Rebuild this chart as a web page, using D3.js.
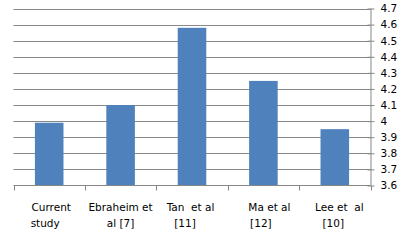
<!DOCTYPE html>
<html><head><meta charset="utf-8">
<script src="https://cdn.jsdelivr.net/npm/d3@7"></script>
<style>body{margin:0;background:#fff}svg{display:block}text{font-family:"DejaVu Sans",Verdana,sans-serif;font-size:10.5px;fill:#000}</style>
</head><body><svg id="c" width="406" height="245"></svg>
<script>
const categories = ["Current study", "Ebraheim et al [7]", "Tan et al [11]", "Ma et al [12]", "Lee et al [10]"];
const labelLines = [["Current", "study"], ["Ebraheim et", "al [7]"], ["Tan  et al", "[11]"], ["Ma et al", "[12]"], ["Lee et  al", "[10]"]];
const values = [3.99, 4.10, 4.58, 4.25, 3.95];
const yTicks = [3.6, 3.7, 3.8, 3.9, 4.0, 4.1, 4.2, 4.3, 4.4, 4.5, 4.6, 4.7];

const svg = d3.select("#c");
const pL = 13.5, pR = 370.5, pT = 8.5, pB = 185.5;
const x = d3.scaleBand().domain(categories).range([pL, pR]).paddingInner(0.6).paddingOuter(0.3);
const xb = d3.scaleBand().domain(categories).range([pL, pR]);
const y = d3.scaleLinear().domain([3.6, 4.7]).range([pB, pT]);

// gridlines
svg.append("g").selectAll("line").data(yTicks.slice(1)).join("line")
  .attr("x1", pL).attr("x2", pR)
  .attr("y1", d => Math.round(y(d)) + 0.5).attr("y2", d => Math.round(y(d)) + 0.5)
  .attr("stroke", "#878787").attr("stroke-width", 1);

// bars
svg.append("g").selectAll("rect").data(values).join("rect")
  .attr("x", (d, i) => x(categories[i]))
  .attr("width", x.bandwidth())
  .attr("y", d => y(d))
  .attr("height", d => pB - y(d))
  .attr("fill", "#4F81BD");

// right axis
const yAxis = d3.axisRight(y).tickValues(yTicks).tickSize(4).tickPadding(6)
  .tickFormat(d => d3.format("~g")(d));
const ga = svg.append("g").attr("transform", `translate(${pR},0)`).call(yAxis);
ga.select(".domain").attr("stroke", "#878787").attr("d", `M0.5,${pT}V${pB}`);
ga.selectAll(".tick line").attr("stroke", "#878787").attr("x1", -3);
ga.selectAll(".tick text").attr("font-size", "10.5px").attr("font-family", "DejaVu Sans, Verdana, sans-serif").attr("fill", "#000");

// bottom baseline and category ticks
svg.append("line").attr("x1", pL).attr("x2", pR).attr("y1", pB).attr("y2", pB).attr("stroke", "#878787");
const bt = categories.map(c => xb(c)).concat([pR]);
svg.append("g").selectAll("line").data(bt).join("line")
  .attr("x1", d => Math.round(d) + 0.5).attr("x2", d => Math.round(d) + 0.5)
  .attr("y1", pB).attr("y2", pB + 5).attr("stroke", "#878787");

// category labels (small per-line nudges mimic the original's wrapping)
const nudges = [[2, -4], [0, 0], [-1.5, -7], [6, -2.5], [4.5, -1.5]];
const lg = svg.append("g");
labelLines.forEach((lines, i) => {
  const cx = xb(categories[i]) + xb.bandwidth() / 2;
  const t = lg.append("text").attr("text-anchor", "middle").attr("xml:space", "preserve");
  lines.forEach((ln, j) => {
    t.append("tspan").attr("x", cx + nudges[i][j]).attr("y", 211 + j * 15.5).text(ln);
  });
});
</script></body></html>
